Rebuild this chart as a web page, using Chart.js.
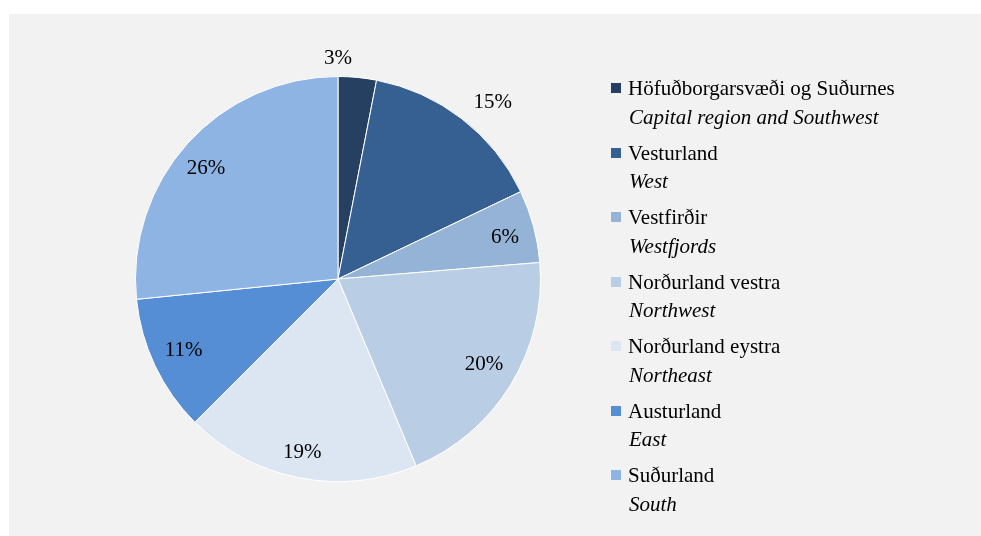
<!DOCTYPE html>
<html>
<head>
<meta charset="utf-8">
<script src="https://cdn.jsdelivr.net/npm/chart.js@4.4.1/dist/chart.umd.min.js"></script>
<style>
  body { margin:0; background:#fff; width:981px; height:536px; overflow:hidden; position:relative; font-family:'Liberation Serif','Times New Roman',serif; }
  #panel { position:absolute; left:9px; top:14px; right:0; bottom:0; background:#f2f2f2; }
  #chart-wrap { position:absolute; left:0; top:0; width:660px; height:522px; }
  #legend { position:absolute; left:602px; top:0; }
  .leg-item { position:absolute; left:0; white-space:nowrap; color:#000; font-size:21px; }
  .leg-box { position:absolute; left:0; width:10px; height:10px; }
  .leg-name { position:absolute; left:17px; line-height:24px; }
  .leg-en { position:absolute; left:18px; line-height:24px; font-style:italic; }
</style>
</head>
<body>
<div id="panel">
  <div id="chart-wrap"><canvas id="chart-regions"></canvas></div>
  <div id="legend"></div>
</div>
<script>
// Regions (Icelandic / English), slice shares and printed labels
const regionNames = ['Höfuðborgarsvæði og Suðurnes','Vesturland','Vestfirðir','Norðurland vestra','Norðurland eystra','Austurland','Suðurland'];
const regionNamesEn = ['Capital region and Southwest','West','Westfjords','Northwest','Northeast','East','South'];
const shares = [3.05, 14.85, 5.8, 20.0, 18.8, 10.9, 26.6];
const pctLabels = ['3%','15%','6%','20%','19%','11%','26%'];
const sliceColors = ['#254061','#376092','#95b3d7','#b9cde5','#dce6f2','#558ed5','#8eb4e3'];

// label placement: radius factor and angle nudge (deg) per slice
const labelRadius = [1.09, 1.16, 0.85, 0.835, 0.875, 0.84, 0.85];
const labelNudge  = [-5.5, 3.5, 1, -1, 0.5, 0.5, -2.2];

const pctLabelPlugin = {
  id: 'pctLabels',
  afterDatasetsDraw(chart) {
    const ctx = chart.ctx;
    const arcs = chart.getDatasetMeta(0).data;
    ctx.save();
    ctx.font = '21px "Liberation Serif", "Times New Roman", serif';
    ctx.fillStyle = '#000';
    ctx.textAlign = 'center';
    ctx.textBaseline = 'middle';
    arcs.forEach((arc, i) => {
      const p = arc.getProps(['x','y','startAngle','endAngle','outerRadius'], true);
      const mid = (p.startAngle + p.endAngle) / 2 + labelNudge[i] * Math.PI / 180;
      const r = p.outerRadius * labelRadius[i];
      ctx.fillText(pctLabels[i], p.x + Math.cos(mid) * r, p.y + Math.sin(mid) * r);
    });
    ctx.restore();
  }
};

new Chart(document.getElementById('chart-regions'), {
  type: 'pie',
  data: {
    labels: regionNames,
    datasets: [{ data: shares, backgroundColor: sliceColors, borderColor: '#ffffff', borderWidth: 1 }]
  },
  options: {
    responsive: true, maintainAspectRatio: false, animation: false,
    layout: { padding: { left: 126, right: 128, top: 62, bottom: 54 } },
    plugins: { legend: { display: false }, tooltip: { enabled: false } }
  },
  plugins: [pctLabelPlugin]
});

// Legend (two lines per entry)
const legend = document.getElementById('legend');
legend.innerHTML = regionNames.map((name, i) => `
  <div class="leg-item" style="top:${62 + i * 64.5}px;">
    <div class="leg-box" style="top:7px;background:${sliceColors[i]}"></div>
    <div class="leg-name" style="top:0;">${name}</div>
    <div class="leg-en" style="top:28.5px;">${regionNamesEn[i]}</div>
  </div>
`).join('');
</script>
</body>
</html>
